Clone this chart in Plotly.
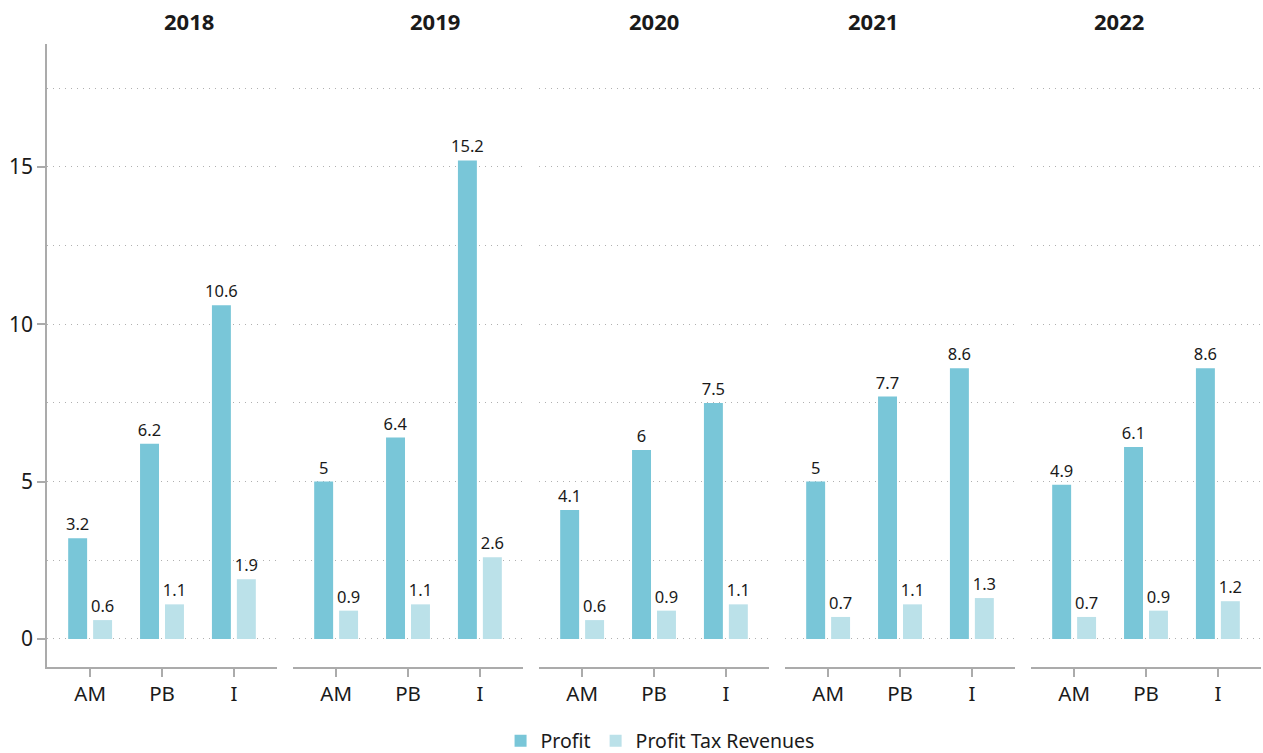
import plotly.graph_objects as go
from plotly.subplots import make_subplots

years = ["2018", "2019", "2020", "2021", "2022"]
categories = ["AM", "PB", "I"]

profit = {
    "2018": [3.2, 6.2, 10.6],
    "2019": [5, 6.4, 15.2],
    "2020": [4.1, 6, 7.5],
    "2021": [5, 7.7, 8.6],
    "2022": [4.9, 6.1, 8.6],
}
profit_tax = {
    "2018": [0.6, 1.1, 1.9],
    "2019": [0.9, 1.1, 2.6],
    "2020": [0.6, 0.9, 1.1],
    "2021": [0.7, 1.1, 1.3],
    "2022": [0.7, 0.9, 1.2],
}

profit_color = "#79C6D8"
tax_color = "#BBE1E9"
text_color = "#1a1a1a"
axis_color = "#ababab"
grid_color = "#b0b0b0"
font_family = "Noto Sans"

fig = make_subplots(rows=1, cols=5, shared_yaxes=True,
                    horizontal_spacing=16 / 1214)

for i, yr in enumerate(years):
    col = i + 1
    fig.add_trace(go.Bar(
        x=categories, y=profit[yr], name="Profit",
        marker=dict(color=profit_color, line=dict(width=0)),
        text=[f"{v:g}" for v in profit[yr]], textposition="outside",
        constraintext="none",
        textfont=dict(size=16.5, color=text_color, family=font_family),
        cliponaxis=False, showlegend=(i == 0), legendgroup="p",
    ), row=1, col=col)
    fig.add_trace(go.Bar(
        x=categories, y=profit_tax[yr], name="Profit Tax Revenues",
        marker=dict(color=tax_color, line=dict(width=0)),
        text=[f"{v:g}" for v in profit_tax[yr]], textposition="outside",
        constraintext="none",
        textfont=dict(size=16.5, color=text_color, family=font_family),
        cliponaxis=False, showlegend=(i == 0), legendgroup="t",
    ), row=1, col=col)
    fig.update_xaxes(
        row=1, col=col, type="category", range=[-0.6, 2.6],
        showline=True, linecolor=axis_color, linewidth=1.5,
        ticks="outside", ticklen=8, tickcolor=axis_color, tickwidth=1.5,
        tickfont=dict(size=20.5, color=text_color, family=font_family),
        showgrid=False, zeroline=False, automargin=False,
    )
    fig.update_yaxes(
        row=1, col=col, range=[-0.89, 18.9], dtick=5, tick0=0,
        showgrid=True, gridcolor=grid_color, griddash="1px,5px", gridwidth=1,
        minor=dict(dtick=2.5, showgrid=True, gridcolor=grid_color,
                   griddash="1px,5px", gridwidth=1, ticks=""),
        zeroline=False, automargin=False,
        showline=(i == 0), linecolor=axis_color, linewidth=1.5,
        ticks="outside" if i == 0 else "", ticklen=8,
        tickcolor=axis_color, tickwidth=1.5,
        showticklabels=(i == 0),
        tickfont=dict(size=21, color=text_color, family=font_family),
    )
    dom = fig.layout[f"xaxis{'' if col == 1 else col}"].domain
    fig.add_annotation(
        x=(dom[0] + dom[1]) / 2, y=1.0, xref="paper", yref="paper",
        yanchor="bottom", yshift=6, showarrow=False,
        text=f"<b>{yr}</b>",
        font=dict(size=22, color=text_color, family=font_family),
    )

fig.update_layout(
    width=1263, height=753,
    margin=dict(l=47, r=2, t=44, b=86, autoexpand=False),
    paper_bgcolor="white", plot_bgcolor="white",
    barmode="group", bargap=0.306, bargroupgap=0.24,
    font=dict(family=font_family, color=text_color),
    legend=dict(
        orientation="h", x=0.505, xanchor="center", y=-0.119, yanchor="middle",
        font=dict(size=19.5, color=text_color, family=font_family),
        itemwidth=30, tracegroupgap=0,
    ),
)

fig.write_html("out.html")
